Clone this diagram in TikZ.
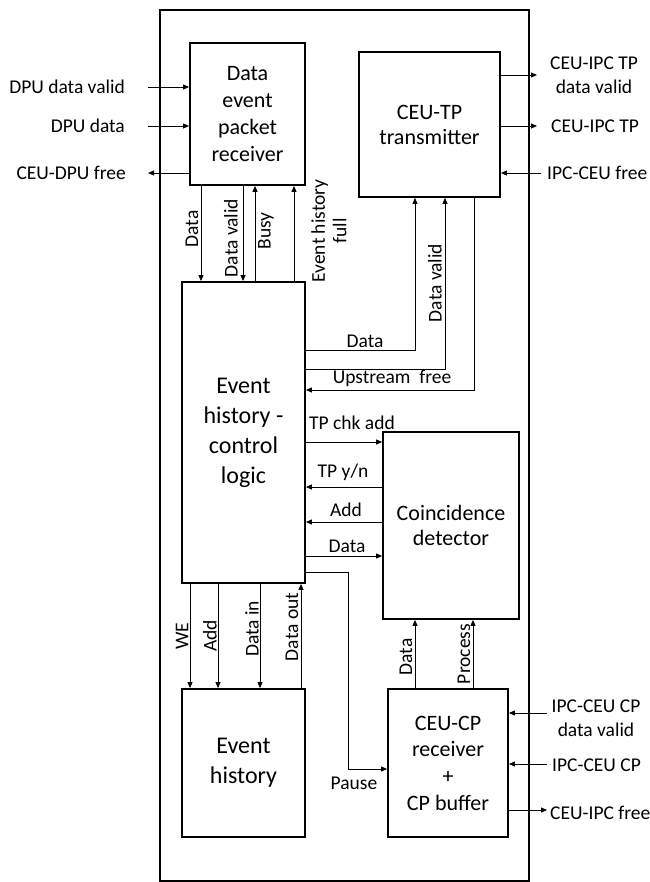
\documentclass[tikz,border=0pt]{standalone}
\usepackage{fontspec}
\setmainfont{Carlito}
\usetikzlibrary{arrows.meta}
\begin{document}
\begin{tikzpicture}[x=1pt,y=-1pt,
  blk/.style={draw,line width=1.8pt,align=center,inner sep=0pt,font=\fontsize{22}{26.7}\selectfont},
  bigblk/.style={blk,font=\fontsize{24}{30}\selectfont},
  lbl/.style={font=\fontsize{19.5}{24}\selectfont,inner sep=0pt,align=center},
  vlbl/.style={lbl,rotate=90},
  arr/.style={line width=0.8pt,-{Triangle[length=6pt,width=5pt]}},
  ln/.style={line width=0.8pt}]
\useasboundingbox (0,0) rectangle (649,882);
% outer frame
\node[draw,line width=1.8pt,minimum width=369pt,minimum height=871pt,inner sep=0pt] (frame) at (344.5,445.5) {};
% blocks
\node[blk,minimum width=115pt,minimum height=142pt] (R) at (247.5,114) {Data\\event\\packet\\receiver};
\node[blk,minimum width=141pt,minimum height=145pt,font=\fontsize{22}{25}\selectfont] (T) at (429.5,124.5) {CEU-TP\\transmitter};
\node[bigblk,minimum width=123pt,minimum height=301pt] (C) at (243.5,432.5) {Event\\history -\\control\\logic};
\node[blk,minimum width=136pt,minimum height=187pt,font=\fontsize{22}{25}\selectfont] (D) at (451,525.5) {Coincidence\\detector};
\node[bigblk,minimum width=123pt,minimum height=148pt] (H) at (243.5,763) {Event\\history};
\node[blk,minimum width=120pt,minimum height=148pt] (P) at (448,763) {CEU-CP\\receiver\\+\\CP buffer};
% free ends
\coordinate (i1) at (148,87);
\coordinate (i2) at (148,126);
\coordinate (o1) at (148,173);
\coordinate (o2) at (537,75);
\coordinate (o3) at (537,126);
\coordinate (i3) at (541,173);
\coordinate (i4) at (547,713);
\coordinate (i5) at (547,764);
\coordinate (o4) at (547,810);
% external labels
\node[lbl,anchor=east] (l1) at (125,87) {DPU data valid};
\node[lbl,anchor=east] (l2) at (125,126) {DPU data};
\node[lbl,anchor=east] (l3) at (126,173) {CEU-DPU free};
\node[lbl] (l4) at (594,75) {CEU-IPC TP\\data valid};
\node[lbl,anchor=west] (l5) at (551,126) {CEU-IPC TP};
\node[lbl,anchor=west] (l6) at (547,173) {IPC-CEU free};
\node[lbl] (l7) at (596,718) {IPC-CEU CP\\data valid};
\node[lbl,anchor=west] (l8) at (552,765) {IPC-CEU CP};
\node[lbl,anchor=west] (l9) at (550,813) {CEU-IPC free};
% external arrows
\draw[arr] (i1) -- (R.west |- i1);
\draw[arr] (i2) -- (R.west |- i2);
\draw[arr] (R.west |- o1) -- (o1);
\draw[arr] (T.east |- o2) -- (o2);
\draw[arr] (T.east |- o3) -- (o3);
\draw[arr] (i3) -- (T.east |- i3);
\draw[arr] (i4) -- (P.east |- i4);
\draw[arr] (i5) -- (P.east |- i5);
\draw[arr] (P.east |- o4) -- (o4);
% R <-> C
\draw[arr] (201,0 |- R.south) -- (201,0 |- C.north);
\draw[arr] (243,0 |- R.south) -- (243,0 |- C.north);
\draw[arr] (255,0 |- C.north) -- (255,0 |- R.south);
\draw[arr] (294,0 |- C.north) -- (294,0 |- R.south);
\node[vlbl] (t1) at (192,229) {Data};
\node[vlbl] (t2) at (231,238) {Data valid};
\node[vlbl] (t3) at (266,231) {Busy};
\node[vlbl,font=\fontsize{19.5}{21.5}\selectfont] (t4) at (329,231) {Event history\\full};
% C <-> T
\draw[arr] (C.east |- 0,350) -- (415,350) -- (415,0 |- T.south);
\draw[arr] (C.east |- 0,369) -- (445,369) -- (445,0 |- T.south);
\draw[arr] (474,0 |- T.south) -- (474,390) -- (C.east |- 0,390);
\node[lbl] (t5) at (365,341) {Data};
\node[vlbl] (t6) at (435,283) {Data valid};
\node[lbl] (t7) at (392,378) {Upstream\ \ free};
% C <-> D
\draw[arr] (C.east |- 0,442) -- (D.west |- 0,442);
\draw[arr] (D.west |- 0,487) -- (C.east |- 0,487);
\draw[arr] (D.west |- 0,522) -- (C.east |- 0,522);
\draw[arr] (C.east |- 0,556) -- (D.west |- 0,556);
\node[lbl] (t8) at (352,423) {TP chk add};
\node[lbl] (t9) at (343,472) {TP y/n};
\node[lbl] (t10) at (346,510) {Add};
\node[lbl] (t11) at (347,546) {Data};
% C <-> H
\draw[arr] (190,0 |- C.south) -- (190,0 |- H.north);
\draw[arr] (218,0 |- C.south) -- (218,0 |- H.north);
\draw[arr] (260,0 |- C.south) -- (260,0 |- H.north);
\draw[arr] (301,0 |- H.north) -- (301,0 |- C.south);
\node[vlbl] (t12) at (182,636) {WE};
\node[vlbl] (t13) at (210,636) {Add};
\node[vlbl] (t14) at (252,629) {Data in};
\node[vlbl] (t15) at (292,627) {Data out};
% Pause
\draw[arr] (C.east |- 0,572) -- (348,572) |- (P.west |- 0,769);
\node[lbl] (t16) at (354,783) {Pause};
% P -> D
\draw[arr] (415,0 |- P.north) -- (415,0 |- D.south);
\draw[arr] (473,0 |- P.north) -- (473,0 |- D.south);
\node[vlbl] (t17) at (406,657) {Data};
\node[vlbl] (t18) at (464,654) {Process};
\end{tikzpicture}
\end{document}
